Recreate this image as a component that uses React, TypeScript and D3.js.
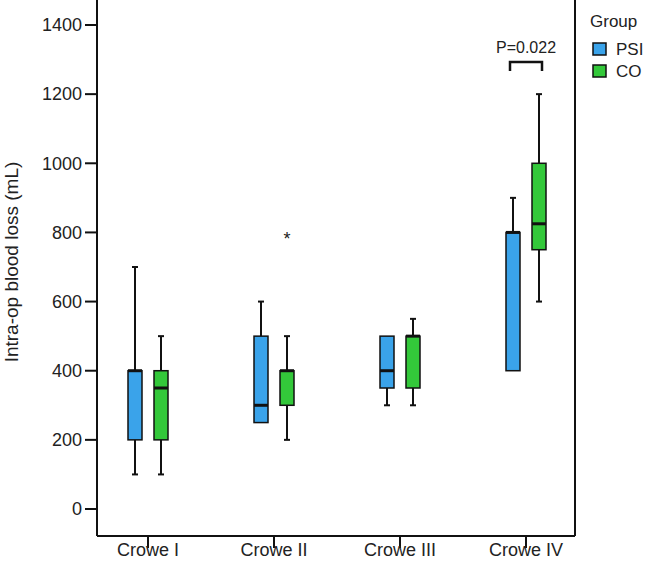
import React from "react";
import * as d3 from "d3";

const categories = ["Crowe I", "Crowe II", "Crowe III", "Crowe IV"];
const groups = ["PSI", "CO"];
// [whiskerLow, q1, median, q3, whiskerHigh]
const psiStats = [
  [100, 200, 400, 400, 700],
  [250, 250, 300, 500, 600],
  [300, 350, 400, 500, 500],
  [400, 400, 800, 800, 900],
];
const coStats = [
  [100, 200, 350, 400, 500],
  [200, 300, 400, 400, 500],
  [300, 350, 500, 500, 550],
  [600, 750, 825, 1000, 1200],
];
const outliers = [{ cat: "Crowe II", group: "CO", value: 800 }];
const yTicks = [0, 200, 400, 600, 800, 1000, 1200, 1400];
const pLabel = "P=0.022";

const colors: Record<string, string> = { PSI: "#3aa3ea", CO: "#33c83a" };
const font = "'Liberation Sans', Arial, sans-serif";

export default function App() {
  const W = 645, H = 576;
  const left = 97, right = 575, bottom = 536;
  const y = d3.scaleLinear().domain([0, 1400]).range([509, 25]);
  const x = d3.scalePoint<string>().domain(categories).range([148, 526]);
  const off = d3.scalePoint<string>().domain(groups).range([-13, 13]);
  const bw = 14;
  const statsByGroup: Record<string, number[][]> = { PSI: psiStats, CO: coStats };

  const boxes: React.ReactNode[] = [];
  categories.forEach((c, i) => {
    groups.forEach((g) => {
      const [lo, q1, med, q3, hi] = statsByGroup[g][i];
      const cx = (x(c) as number) + (off(g) as number);
      const key = c + g;
      boxes.push(
        <g key={key}>
          {hi > q3 && <line x1={cx} x2={cx} y1={y(hi)} y2={y(q3)} stroke="#111" strokeWidth={2} />}
          {hi > q3 && <line x1={cx - 3} x2={cx + 3} y1={y(hi)} y2={y(hi)} stroke="#111" strokeWidth={2} />}
          {lo < q1 && <line x1={cx} x2={cx} y1={y(q1)} y2={y(lo)} stroke="#111" strokeWidth={2} />}
          {lo < q1 && <line x1={cx - 3} x2={cx + 3} y1={y(lo)} y2={y(lo)} stroke="#111" strokeWidth={2} />}
          <rect x={cx - bw / 2} y={y(q3)} width={bw} height={y(q1) - y(q3)} fill={colors[g]} stroke="#111" strokeWidth={1.5} />
          <line x1={cx - bw / 2} x2={cx + bw / 2} y1={y(med)} y2={y(med)} stroke="#111" strokeWidth={3} />
        </g>
      );
    });
  });

  const p1 = (x("Crowe IV") as number) + (off("PSI") as number);
  const p2 = (x("Crowe IV") as number) + (off("CO") as number);

  return (
    <svg width={W} height={H} style={{ position: "absolute", left: 0, top: 0 }} fontFamily={font}>
      <rect width={W} height={H} fill="#fff" />
      {/* frame */}
      <line x1={left} x2={left} y1={0} y2={bottom} stroke="#111" strokeWidth={2} />
      <line x1={right} x2={right} y1={0} y2={bottom} stroke="#111" strokeWidth={2} />
      <line x1={left} x2={right} y1={bottom} y2={bottom} stroke="#111" strokeWidth={2} />
      {/* y ticks */}
      {yTicks.map((t) => (
        <g key={t}>
          <line x1={left - 12} x2={left} y1={y(t)} y2={y(t)} stroke="#111" strokeWidth={2} />
          <text x={left - 15} y={y(t)} dy="0.35em" textAnchor="end" fontSize={18} fill="#222">{t}</text>
        </g>
      ))}
      <text transform={`translate(18,${262}) rotate(-90)`} textAnchor="middle" fontSize={19} fill="#222">Intra-op blood loss (mL)</text>
      {/* x ticks */}
      {categories.map((c) => (
        <g key={c}>
          <line x1={x(c)} x2={x(c)} y1={bottom} y2={bottom + 12} stroke="#111" strokeWidth={2} />
          <text x={x(c)} y={556} textAnchor="middle" fontSize={18} fill="#222">{c}</text>
        </g>
      ))}
      {boxes}
      {outliers.map((o, i) => (
        <text key={i} x={(x(o.cat) as number) + (off(o.group) as number)} y={y(o.value)} dy="0.7em" textAnchor="middle" fontSize={18} fill="#222">*</text>
      ))}
      {/* significance bracket */}
      <path d={`M${p1 - 3},${71} V${62} H${p2 + 3} V${71}`} fill="none" stroke="#111" strokeWidth={2.5} />
      <text x={(p1 + p2) / 2} y={53} textAnchor="middle" fontSize={16} fill="#222">{pLabel}</text>
      {/* legend */}
      <text x={590} y={27} fontSize={17} fill="#222">Group</text>
      {groups.map((g, i) => (
        <g key={g}>
          <rect x={593} y={43 + i * 22} width={13} height={12} fill={colors[g]} stroke="#111" strokeWidth={1.5} />
          <text x={616} y={49 + i * 22} dy="0.35em" fontSize={17} fill="#222">{g}</text>
        </g>
      ))}
    </svg>
  );
}
